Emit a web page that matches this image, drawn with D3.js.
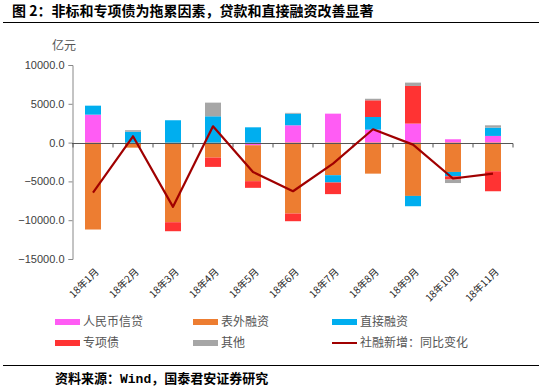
<!DOCTYPE html>
<html><head><meta charset="utf-8">
<script src="https://cdn.jsdelivr.net/npm/d3@7/dist/d3.min.js"></script>
<style>
html,body{margin:0;padding:0;background:#fff;}
svg{display:block;}
</style></head>
<body>
<script>
const categories = ["18年1月","18年2月","18年3月","18年4月","18年5月","18年6月","18年7月","18年8月","18年9月","18年10月","18年11月"];
const rmbLoans   = [3600, 0, 0, 0, -340, 2230, 3730, 1670, 2450, 430, 860];
const offBalance = [-11200, -650, -10260, -1930, -4630, -9140, -4200, -4000, -6870, -3780, -3690];
const directFin  = [1160, 1400, 2880, 3390, 1970, 1500, -940, 1630, -1330, -560, 1070];
const specialBond= [0, 0, -1160, -1200, -860, -990, -1500, 2150, 4850, -420, -2580];
const others     = [0, 200, 0, 1760, 0, 100, 0, 200, 430, -450, 300];
const tsfYoY     = [-6440, 815, -8280, 2100, -3780, -6270, -2700, 1720, -260, -4630, -3990];
const yTicks = [10000, 5000, 0, -5000, -10000, -15000];
const seriesNames = ["人民币信贷","表外融资","直接融资","专项债","其他","社融新增：同比变化"];

const colors = ["#FF5CF4","#ED7D31","#00AEEF","#FF3333","#A6A6A6","#A00000"];
const W = 539, H = 389;
const svg = d3.select("body").append("svg").attr("width", W).attr("height", H)
  .style("font-family", "'Noto Sans CJK SC', 'Noto Sans', sans-serif");

// title
svg.append("text").attr("x", 12).attr("y", 16).attr("font-size", 14).attr("font-weight", "bold")
  .attr("fill", "#000").text("图 2：非标和专项债为拖累因素，贷款和直接融资改善显著");
svg.append("line").attr("x1", 3).attr("x2", 539).attr("y1", 22.5).attr("y2", 22.5).attr("stroke", "#000").attr("stroke-width", 1);

const x = d3.scaleBand().domain(categories).range([73, 513]).paddingInner(0.6).paddingOuter(0.3);
const y = d3.scaleLinear().domain([-15000, 10000]).range([259, 65]);

const data = categories.map((c, i) => ({cat: c, s0: rmbLoans[i], s1: offBalance[i], s2: directFin[i], s3: specialBond[i], s4: others[i]}));
const stack = d3.stack().keys(["s0","s1","s2","s3","s4"]).offset(d3.stackOffsetDiverging);
const layers = stack(data);

svg.selectAll("g.layer").data(layers).join("g").attr("class", "layer")
  .attr("fill", (d, i) => colors[i])
  .selectAll("rect").data(d => d).join("rect")
  .attr("x", d => x(d.data.cat))
  .attr("width", x.bandwidth())
  .attr("y", d => y(Math.max(d[0], d[1])))
  .attr("height", d => Math.abs(y(d[0]) - y(d[1])));

// y axis
const yAxis = d3.axisLeft(y).tickValues(yTicks).tickFormat(d => d3.format(".1f")(d)).tickSize(4);
const gy = svg.append("g").attr("transform", "translate(72.5,0)").call(yAxis);
gy.select(".domain").attr("stroke", "#888");
gy.selectAll(".tick line").attr("stroke", "#888");
gy.selectAll(".tick text").attr("font-family", "'Liberation Sans', Arial, sans-serif").attr("font-size", 11).attr("fill", "#404040").attr("x", -8);

svg.append("text").attr("x", 52).attr("y", 50).attr("font-size", 12).attr("fill", "#555").text("亿元");

// x axis at zero
const zeroY = Math.round(y(0)) + 0.5;
svg.append("line").attr("x1", 72).attr("x2", 513).attr("y1", zeroY).attr("y2", zeroY).attr("stroke", "#555");
const boundaries = d3.range(categories.length + 1).map(i => 73 + i * x.step());
svg.selectAll("line.xt").data(boundaries).join("line").attr("class", "xt")
  .attr("x1", d => d).attr("x2", d => d).attr("y1", zeroY).attr("y2", zeroY + 4).attr("stroke", "#555");

// x labels
svg.selectAll("text.xl").data(categories).join("text").attr("class", "xl")
  .attr("transform", d => `translate(${x(d) + x.bandwidth() / 2 + 4},270) rotate(-45)`)
  .attr("text-anchor", "end").attr("dy", "0.35em")
  .attr("font-size", 10).attr("fill", "#222").text(d => d);

// line
const line = d3.line().x((d, i) => x(categories[i]) + x.bandwidth() / 2).y(d => y(d));
svg.append("path").datum(tsfYoY).attr("d", line).attr("fill", "none")
  .attr("stroke", colors[5]).attr("stroke-width", 2.2).attr("stroke-linejoin", "round");

// legend
const legPos = [[55,322],[193,322],[332,322],[55,343],[193,343],[332,343]];
seriesNames.forEach((n, i) => {
  const [lx, ly] = legPos[i];
  if (i < 5) {
    svg.append("rect").attr("x", lx).attr("y", ly - 3).attr("width", 25).attr("height", 6).attr("fill", colors[i]);
  } else {
    svg.append("line").attr("x1", lx).attr("x2", lx + 25).attr("y1", ly).attr("y2", ly).attr("stroke", colors[i]).attr("stroke-width", 2);
  }
  svg.append("text").attr("x", lx + 28).attr("y", ly).attr("dy", "0.35em").attr("font-size", 12).attr("fill", "#555").text(n);
});

svg.append("line").attr("x1", 3).attr("x2", 539).attr("y1", 365.5).attr("y2", 365.5).attr("stroke", "#000").attr("stroke-width", 1);
const src = svg.append("text").attr("x", 55).attr("y", 383).attr("font-size", 13).attr("font-weight", "bold").attr("fill", "#000");
src.append("tspan").text("资料来源：");
src.append("tspan").attr("font-family", "'Liberation Mono', monospace").text("Wind");
src.append("tspan").text("，国泰君安证券研究");
</script>
</body></html>
